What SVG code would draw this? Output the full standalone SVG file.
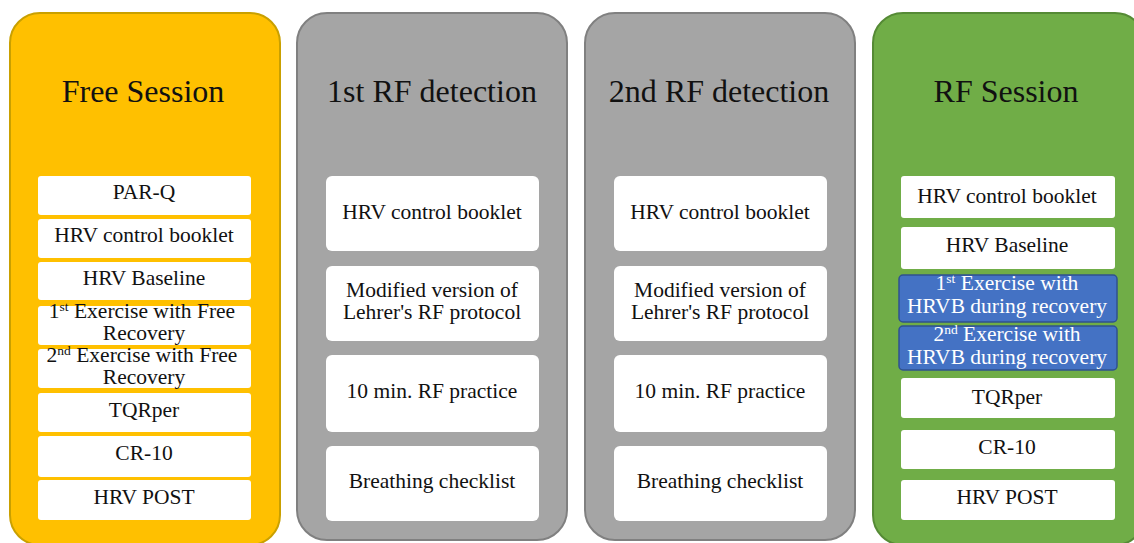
<svg xmlns="http://www.w3.org/2000/svg" width="1134" height="543" viewBox="0 0 1134 543" font-family="'Liberation Serif', 'Times New Roman', 'DejaVu Serif', serif">
  <style>
    text { font-family: "Liberation Serif", "Times New Roman", "DejaVu Serif", serif; fill: #111; text-anchor: middle; }
    .title { font-size: 32px; }
    .item { font-size: 21.5px; }
    .sup { font-size: 13.5px; }
    .white { fill: #fff; }
    .panel { stroke-width: 2; }
    .free { fill: #FFC000; stroke: #C9A000; }
    .gray { fill: #A5A5A5; stroke: #808080; }
    .green { fill: #70AD47; stroke: #558A35; }
    .box { fill: #fff; }
    .blue { fill: #4472C4; stroke: #2F528F; stroke-width: 1.5; }
  </style>
  <rect width="1134" height="543" fill="#fff"/>

  <!-- Free Session column -->
  <g id="free-session">
    <rect class="panel free" x="10" y="13" width="270" height="532" rx="30"/>
    <text class="title" x="143" y="102">Free Session</text>
    <rect class="box" x="38" y="176" width="213" height="39" rx="3"/>
    <text class="item" x="144" y="199">PAR-Q</text>
    <rect class="box" x="38" y="219" width="213" height="39" rx="3"/>
    <text class="item" x="144" y="242">HRV control booklet</text>
    <rect class="box" x="38" y="262" width="213" height="38" rx="3"/>
    <text class="item" x="144" y="285">HRV Baseline</text>
    <rect class="box" x="38" y="306" width="213" height="39" rx="3"/>
    <text class="item" x="142" y="318">1<tspan class="sup" dy="-7">st</tspan><tspan dy="7"> Exercise with Free</tspan></text>
    <text class="item" x="144" y="340">Recovery</text>
    <rect class="box" x="38" y="349" width="213" height="39" rx="3"/>
    <text class="item" x="142" y="362">2<tspan class="sup" dy="-7">nd</tspan><tspan dy="7"> Exercise with Free</tspan></text>
    <text class="item" x="144" y="384">Recovery</text>
    <rect class="box" x="38" y="393" width="213" height="39" rx="3"/>
    <text class="item" x="144" y="417">TQRper</text>
    <rect class="box" x="38" y="436" width="213" height="41" rx="3"/>
    <text class="item" x="144" y="460">CR-10</text>
    <rect class="box" x="38" y="480" width="213" height="40" rx="3"/>
    <text class="item" x="144" y="504">HRV POST</text>
  </g>

  <!-- 1st RF detection column -->
  <g id="rf-detection-1">
    <rect class="panel gray" x="297" y="13" width="270" height="527" rx="30"/>
    <text class="title" x="432" y="102">1st RF detection</text>
    <rect class="box" x="326" y="176" width="213" height="75" rx="6"/>
    <text class="item" x="432" y="219">HRV control booklet</text>
    <rect class="box" x="326" y="266" width="213" height="75" rx="6"/>
    <text class="item" x="432" y="297">Modified version of</text>
    <text class="item" x="432" y="319">Lehrer's RF protocol</text>
    <rect class="box" x="326" y="355" width="213" height="77" rx="6"/>
    <text class="item" x="432" y="398">10 min. RF practice</text>
    <rect class="box" x="326" y="446" width="213" height="75" rx="6"/>
    <text class="item" x="432" y="488">Breathing checklist</text>
  </g>

  <!-- 2nd RF detection column -->
  <g id="rf-detection-2">
    <rect class="panel gray" x="585" y="13" width="270" height="527" rx="30"/>
    <text class="title" x="719" y="102">2nd RF detection</text>
    <rect class="box" x="614" y="176" width="213" height="75" rx="6"/>
    <text class="item" x="720" y="219">HRV control booklet</text>
    <rect class="box" x="614" y="266" width="213" height="75" rx="6"/>
    <text class="item" x="720" y="297">Modified version of</text>
    <text class="item" x="720" y="319">Lehrer's RF protocol</text>
    <rect class="box" x="614" y="355" width="213" height="77" rx="6"/>
    <text class="item" x="720" y="398">10 min. RF practice</text>
    <rect class="box" x="614" y="446" width="213" height="75" rx="6"/>
    <text class="item" x="720" y="488">Breathing checklist</text>
  </g>

  <!-- RF Session column -->
  <g id="rf-session">
    <rect class="panel green" x="873" y="13" width="272" height="532" rx="30"/>
    <text class="title" x="1006" y="102">RF Session</text>
    <rect class="box" x="901" y="176" width="214" height="42" rx="3"/>
    <text class="item" x="1007" y="203">HRV control booklet</text>
    <rect class="box" x="901" y="227" width="214" height="42" rx="3"/>
    <text class="item" x="1007" y="252">HRV Baseline</text>
    <rect class="blue" x="899" y="275" width="218" height="47" rx="4"/>
    <text class="item white" x="1007" y="290">1<tspan class="sup" dy="-7">st</tspan><tspan dy="7"> Exercise with</tspan></text>
    <text class="item white" x="1007" y="313">HRVB during recovery</text>
    <rect class="blue" x="899" y="326" width="218" height="44" rx="4"/>
    <text class="item white" x="1007" y="341">2<tspan class="sup" dy="-7">nd</tspan><tspan dy="7"> Exercise with</tspan></text>
    <text class="item white" x="1007" y="364">HRVB during recovery</text>
    <rect class="box" x="901" y="378" width="214" height="40" rx="3"/>
    <text class="item" x="1007" y="404">TQRper</text>
    <rect class="box" x="901" y="430" width="214" height="39" rx="3"/>
    <text class="item" x="1007" y="454">CR-10</text>
    <rect class="box" x="901" y="480" width="214" height="40" rx="3"/>
    <text class="item" x="1007" y="504">HRV POST</text>
  </g>

  <!-- no connectors between columns -->
  <g id="connectors"/>
</svg>
